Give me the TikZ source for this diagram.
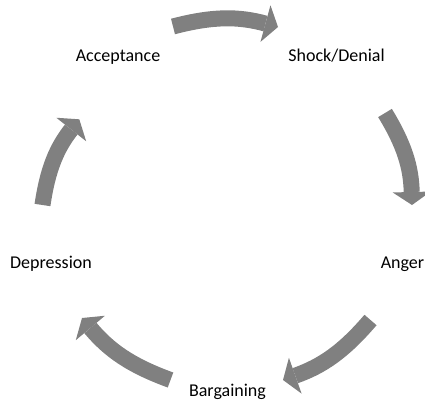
\documentclass[tikz,border=0pt]{standalone}
\usepackage{fontspec}
\setmainfont{Carlito}
\usetikzlibrary{arrows.meta}
\definecolor{arrowgray}{RGB}{128,128,128}
\begin{document}
\begin{tikzpicture}[x=1pt,y=-1pt,
  stage/.style={anchor=base, inner sep=0pt, font=\fontsize{18}{22}\selectfont, text=black},
  cyclearrow/.style={draw=arrowgray, line width=16pt,
    -{Triangle[width=38pt,length=13pt,line width=0pt]}, bend left=15}]
\useasboundingbox (0,0) rectangle (425,402);
% labels
\node[stage] (acc) at (118,61.7) {Acceptance};
\node[stage] (sho) at (336.5,61.7) {Shock/Denial};
\node[stage] (ang) at (402.5,268) {Anger};
\node[stage] (bar) at (227.5,396) {Bargaining};
\node[stage] (dep) at (51,268) {Depression};
% arrow end points
\coordinate (t1) at (173,26.5);  \coordinate (h1) at (278,27);
\coordinate (t2) at (385,113);   \coordinate (h2) at (412,205);
\coordinate (t3) at (370.5,320); \coordinate (h3) at (283,380);
\coordinate (t4) at (170.5,380); \coordinate (h4) at (82,318);
\coordinate (t5) at (42.5,205);  \coordinate (h5) at (79.3,119.3);
% arrows
\draw[cyclearrow] (t1) to (h1);
\draw[cyclearrow] (t2) to (h2);
\draw[cyclearrow] (t3) to (h3);
\draw[cyclearrow] (t4) to (h4);
\draw[cyclearrow] (t5) to (h5);
\end{tikzpicture}
\end{document}
